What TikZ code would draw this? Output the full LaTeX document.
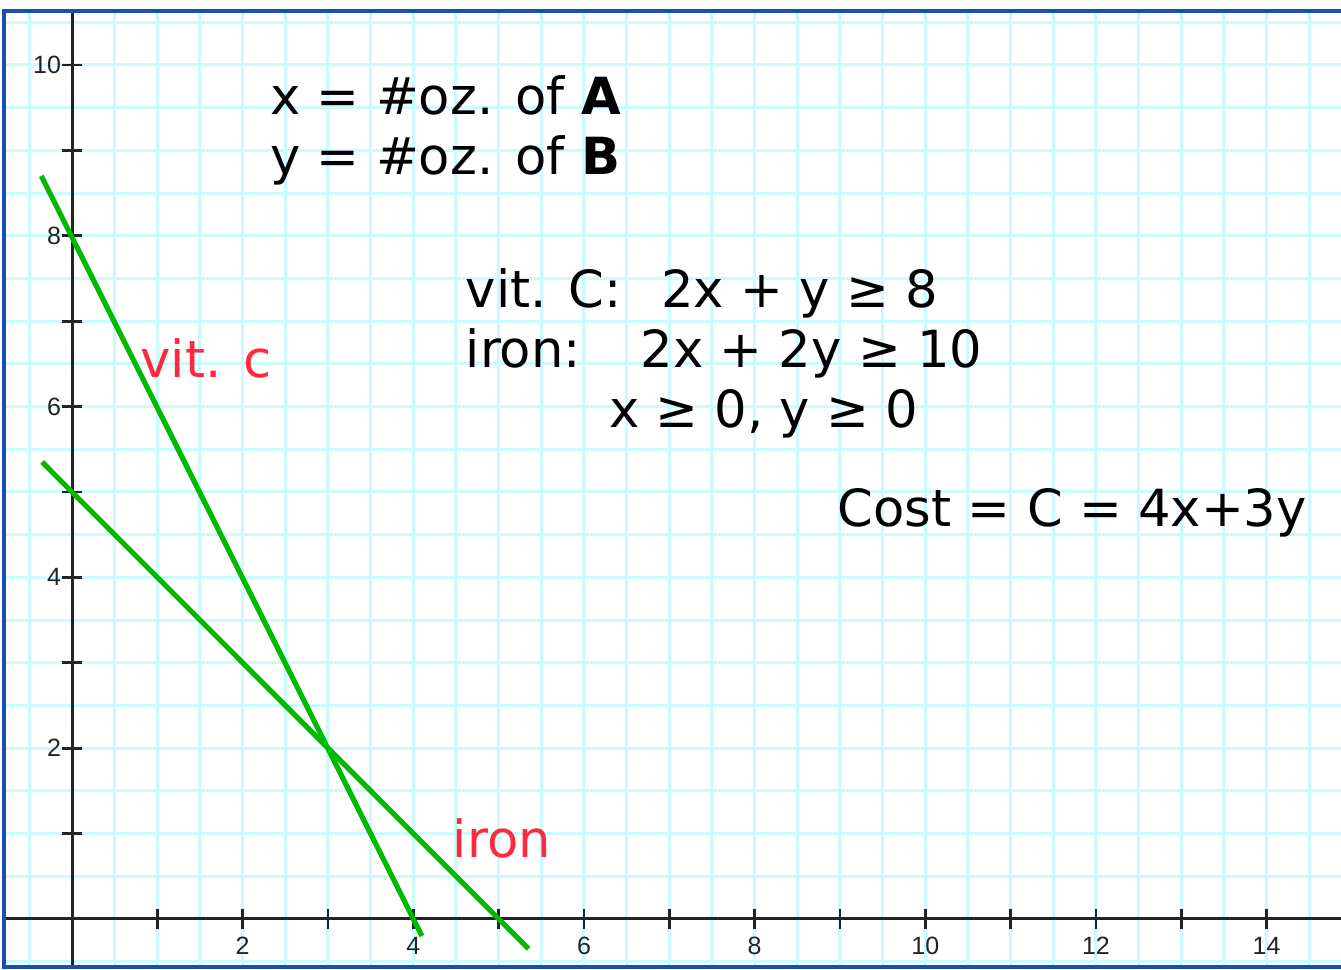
\documentclass[tikz,border=0pt]{standalone}
\usepackage{fontspec}
\setmainfont{DejaVu Sans}
\newfontfamily\tickfont{Liberation Sans}
\definecolor{gridc}{RGB}{200,252,255}
\definecolor{framec}{RGB}{28,78,178}
\definecolor{linec}{RGB}{0,185,0}
\definecolor{labc}{RGB}{255,40,60}
\definecolor{axc}{RGB}{35,35,35}
\begin{document}
\begin{tikzpicture}[x=42.667pt,y=42.7pt,
  txt/.style={anchor=base west, inner sep=0pt, font=\fontsize{25.6}{30}\selectfont},
  redlab/.style={txt, text=labc},
  ylab/.style={anchor=east, inner sep=0pt, font=\tickfont\fontsize{12.5}{14}\selectfont, text=axc},
  xlab/.style={anchor=center, inner sep=0pt, font=\tickfont\fontsize{12.5}{14}\selectfont, text=axc},
  gridline/.style={draw=gridc, line width=1.5pt},
  axisline/.style={draw=axc, line width=1.5pt},
  tickline/.style={draw=axc, line width=1.4pt},
  plotline/.style={draw=linec, line width=2.6pt},
  framestyle/.style={draw=framec, line width=1.6pt}]
\useasboundingbox (-0.8438,-0.5972) rectangle (14.872,10.761);
\fill[white] (-0.8438,-0.5972) rectangle (14.872,10.761);
% grid
\begin{scope}
\clip (-0.797,-0.562) rectangle (14.872,10.632);
\foreach \i in {-1,...,29} \draw[gridline] (\i/2,-0.6) -- (\i/2,10.7);
\foreach \j in {-1,...,21} \draw[gridline] (-0.9,\j/2) -- (15,\j/2);
\end{scope}
% axes
\coordinate (xl) at (-0.797,0);
\coordinate (xr) at (14.872,0);
\coordinate (yb) at (0,-0.562);
\coordinate (yt) at (0,10.632);
\draw[axisline] (xl) -- (xr);
\draw[axisline] (yb) -- (yt);
\foreach \k in {1,...,14} \draw[tickline] (\k,-0.117) -- (\k,0.117);
\foreach \k in {1,...,10} \draw[tickline] (-0.117,\k) -- (0.117,\k);
\foreach \k in {2,4,...,14} \node[xlab] (xt\k) at (\k,-0.316) {\k};
\foreach \k in {2,4,...,10} \node[ylab] (yt\k) at (-0.125,\k) {\k};
% constraint lines
\coordinate (vA) at (-0.36,8.70);
\coordinate (vB) at (4.1,-0.2);
\coordinate (iA) at (-0.35,5.35);
\coordinate (iB) at (5.35,-0.35);
\draw[plotline] (vA) -- (vB);
\draw[plotline] (iA) -- (iB);
% texts
\node[txt] (defx) at (2.32,9.415) {x = \#oz. of \textbf{A}};
\node[txt] (defy) at (2.32,8.712) {y = \#oz. of \textbf{B}};
\node[txt] (vcl) at (4.61,7.155) {vit. C:};
\node[txt] (vce) at (6.90,7.155) {2x + y ≥ 8};
\node[txt] (irl) at (4.61,6.452) {iron:};
\node[txt] (ire) at (6.66,6.452) {2x + 2y ≥ 10};
\node[txt] (nn) at (6.29,5.749) {x ≥ 0, y ≥ 0};
\node[txt] (cost) at (8.97,4.590) {Cost = C = 4x+3y};
\node[redlab] (vclab) at (0.80,6.335) {vit. c};
\node[redlab] (irlab) at (4.46,0.714) {iron};
% frame
\draw[framestyle] (14.872,10.632) -- (-0.797,10.632) -- (-0.797,-0.562) -- (14.872,-0.562);
\end{tikzpicture}
\end{document}
